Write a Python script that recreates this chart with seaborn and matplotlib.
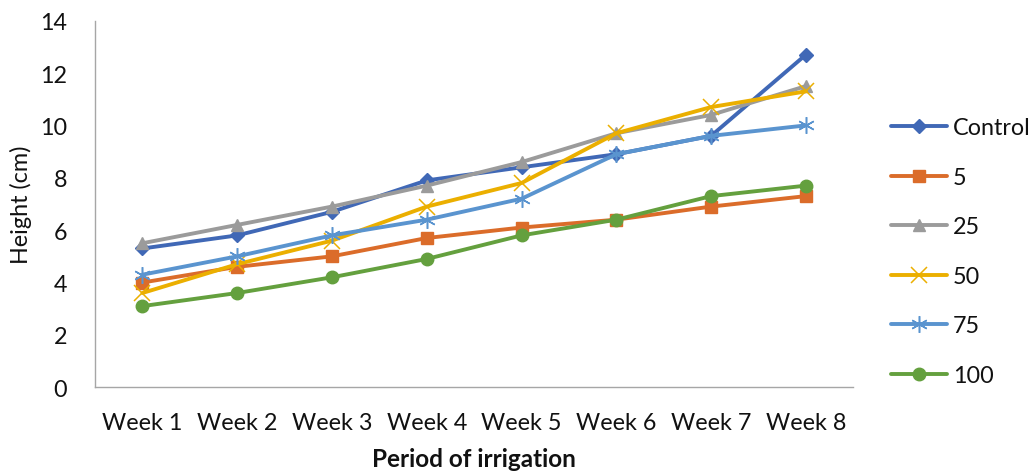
import matplotlib
matplotlib.use("Agg")
import matplotlib.pyplot as plt
import seaborn as sns
import pandas as pd

# Plant height per week for each irrigation treatment
weeks = ["Week 1", "Week 2", "Week 3", "Week 4", "Week 5", "Week 6", "Week 7", "Week 8"]
control = [5.3, 5.8, 6.7, 7.9, 8.4, 8.9, 9.6, 12.7]
t5 = [4.0, 4.6, 5.0, 5.7, 6.1, 6.4, 6.9, 7.3]
t25 = [5.5, 6.2, 6.9, 7.7, 8.6, 9.7, 10.4, 11.5]
t50 = [3.6, 4.7, 5.6, 6.9, 7.8, 9.7, 10.7, 11.3]
t75 = [4.3, 5.0, 5.8, 6.4, 7.2, 8.9, 9.6, 10.0]
t100 = [3.1, 3.6, 4.2, 4.9, 5.8, 6.4, 7.3, 7.7]
series_names = ["Control", "5", "25", "50", "75", "100"]

series_values = [control, t5, t25, t50, t75, t100]
df = pd.concat(
    [pd.DataFrame({"week": weeks, "height": vals, "group": name})
     for name, vals in zip(series_names, series_values)],
    ignore_index=True,
)

sns.set_style("white")
plt.rcParams["font.family"] = ["Lato", "DejaVu Sans"]

FS = 16.8
colors = ["#4068B6", "#DB6C2A", "#9B9B9B", "#EBAF00", "#5A94CF", "#64A03E"]
markers = ["D", "s", "^", "x", (6, 2, 0), "o"]
msizes = [7.5, 8, 8.5, 12, 12, 9]
mews = [1, 1, 1, 1.1, 1.1, 1]

fig = plt.figure(figsize=(10.33, 4.77), dpi=100)
ax = fig.add_axes([0.092, 0.186, 0.734, 0.7686])

for name, col, mk, ms, mew in zip(series_names, colors, markers, msizes, mews):
    sub = df[df["group"] == name]
    sns.lineplot(data=sub, x="week", y="height", ax=ax, color=col, linewidth=2.8,
                 marker=mk, markersize=ms, markeredgewidth=mew,
                 markeredgecolor=col, markerfacecolor=col, label=name, sort=False)

ax.set_xlim(-0.5, len(weeks) - 0.5)
ax.set_ylim(0, 14)
ax.set_yticks(range(0, 15, 2))

# category boundaries as major ticks, labels centred on minor ticks
ax.set_xticks([i - 0.5 for i in range(len(weeks) + 1)])
ax.set_xticklabels([])
ax.set_xticks(range(len(weeks)), minor=True)
ax.set_xticklabels(weeks, minor=True)
ax.tick_params(axis="x", which="major", length=7, width=1, color="#A6A6A6", direction="out")
ax.tick_params(axis="x", which="minor", length=0, pad=18, labelsize=FS, labelcolor="#111111")
ax.tick_params(axis="y", which="major", length=7, width=1, color="#A6A6A6", direction="out",
               labelsize=FS, labelcolor="#111111", pad=13)

for side in ["top", "right"]:
    ax.spines[side].set_visible(False)
for side in ["left", "bottom"]:
    ax.spines[side].set_color("#A6A6A6")
    ax.spines[side].set_linewidth(1)

ax.set_xlabel("Period of irrigation", fontsize=17.5, fontweight="bold", labelpad=10, color="#111111")
ax.set_ylabel("Height (cm)", fontsize=FS, labelpad=6, color="#111111")

leg = ax.legend(loc="center left", bbox_to_anchor=(1.05, 0.37), frameon=False,
                fontsize=FS, handlelength=2.4, handletextpad=0.25, labelspacing=1.22,
                borderaxespad=0, borderpad=0)
for t in leg.get_texts():
    t.set_color("#111111")

fig.savefig("out.png", dpi=100)
